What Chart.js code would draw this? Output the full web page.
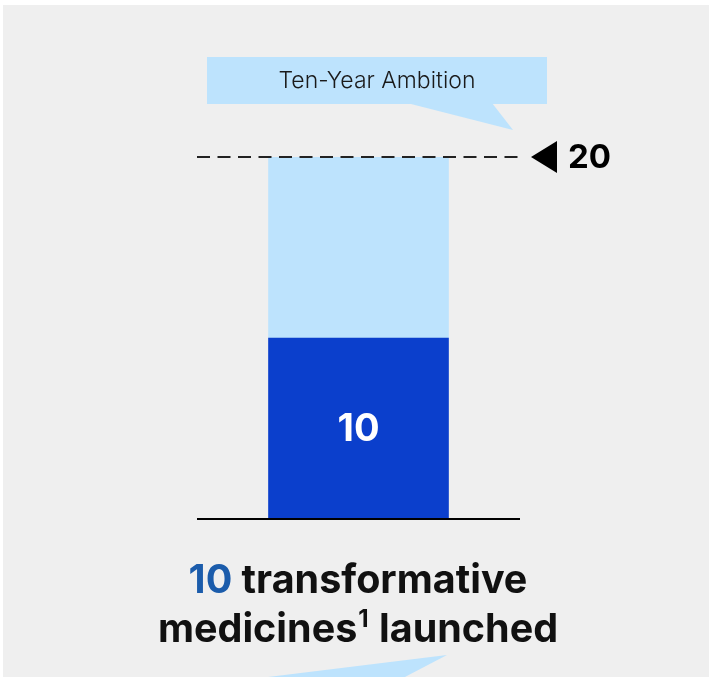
<!DOCTYPE html>
<html>
<head>
<meta charset="utf-8">
<style>
  html, body { margin: 0; padding: 0; background: #ffffff; }
  #wrap { width: 711px; height: 677px; position: relative; }
  canvas { display: block; }
</style>
<script src="https://cdn.jsdelivr.net/npm/chart.js@4"></script>
</head>
<body>
<div id="wrap"><canvas id="c" width="711" height="677"></canvas></div>
<script>
// ---- data ----
const categories = ['Transformative medicines launched'];
const launched = [10];
const remainingToAmbition = [10];
const ambitionTarget = 20;
const ambitionLabel = 'Ten-Year Ambition';
const captionNumber = '10';
const captionLine1 = ' transformative';
const captionLine2 = 'medicines';
const captionSup = '1';
const captionLine2b = ' launched';

const FONT = 'Inter, "Noto Sans", sans-serif';

const decor = {
  id: 'decor',
  beforeDraw(chart) {
    const ctx = chart.ctx;
    ctx.save();
    ctx.fillStyle = '#efefef';
    ctx.fillRect(3, 5, 706, 672);
    ctx.restore();
  },
  afterDatasetsDraw(chart) {
    const ctx = chart.ctx;
    const ca = chart.chartArea;
    const y = chart.scales.y;
    const y0 = y.getPixelForValue(0);
    const yT = y.getPixelForValue(ambitionTarget);
    ctx.save();
    // baseline
    ctx.strokeStyle = '#000';
    ctx.lineWidth = 2;
    ctx.beginPath();
    ctx.moveTo(ca.left, y0); ctx.lineTo(ca.right, y0);
    ctx.stroke();
    // dashed target line
    ctx.setLineDash([13, 7.5]);
    ctx.lineWidth = 2;
    ctx.strokeStyle = '#222';
    ctx.beginPath();
    ctx.moveTo(ca.left, yT); ctx.lineTo(ca.right - 2, yT);
    ctx.stroke();
    ctx.setLineDash([]);
    // triangle marker
    ctx.fillStyle = '#000';
    ctx.beginPath();
    ctx.moveTo(ca.right + 11, yT);
    ctx.lineTo(ca.right + 37, yT - 16);
    ctx.lineTo(ca.right + 37, yT + 16);
    ctx.closePath();
    ctx.fill();
    // target label
    ctx.font = 'bold 33px ' + FONT;
    ctx.textBaseline = 'middle';
    ctx.textAlign = 'left';
    ctx.fillText(String(ambitionTarget), ca.right + 48, yT + 1);

    // callout box
    ctx.fillStyle = '#bde3fd';
    ctx.fillRect(207, 57, 340, 47);
    ctx.beginPath();
    ctx.moveTo(407, 103); ctx.lineTo(513, 130); ctx.lineTo(492, 103);
    ctx.closePath(); ctx.fill();
    ctx.fillStyle = '#1a1a1a';
    ctx.font = '300 23px ' + FONT;
    ctx.textAlign = 'center';
    ctx.textBaseline = 'middle';
    ctx.fillText(ambitionLabel, 377, 81);

    // value label in bar
    const meta = chart.getDatasetMeta(0);
    meta.data.forEach((bar, i) => {
      const cy = (bar.y + bar.base) / 2;
      ctx.fillStyle = '#ffffff';
      ctx.font = 'bold 38px ' + FONT;
      ctx.textAlign = 'center';
      ctx.textBaseline = 'middle';
      ctx.fillText(String(launched[i]), bar.x, cy + 1);
    });

    // caption
    const cx = 358;
    ctx.textBaseline = 'alphabetic';
    ctx.textAlign = 'left';
    ctx.font = 'bold 39.5px ' + FONT;
    const wNum = ctx.measureText(captionNumber).width;
    const wL1 = ctx.measureText(captionLine1).width;
    let x = cx - (wNum + wL1) / 2;
    ctx.fillStyle = '#1b5cab';
    ctx.fillText(captionNumber, x, 593);
    ctx.fillStyle = '#111';
    ctx.fillText(captionLine1, x + wNum, 593);

    const wM = ctx.measureText(captionLine2).width;
    const wL2 = ctx.measureText(captionLine2b).width;
    ctx.font = 'bold 24px ' + FONT;
    const wS = ctx.measureText(captionSup).width + 2;
    x = cx - (wM + wS + wL2) / 2;
    ctx.font = 'bold 39.5px ' + FONT;
    ctx.fillText(captionLine2, x, 642);
    ctx.font = 'bold 24px ' + FONT;
    ctx.fillText(captionSup, x + wM + 1, 627);
    ctx.font = 'bold 39.5px ' + FONT;
    ctx.fillText(captionLine2b, x + wM + wS, 642);

    // lower callout tail
    ctx.fillStyle = '#bde3fd';
    ctx.beginPath();
    ctx.moveTo(447, 655); ctx.lineTo(403, 678); ctx.lineTo(260, 678);
    ctx.closePath(); ctx.fill();
    ctx.restore();
  }
};

new Chart(document.getElementById('c'), {
  type: 'bar',
  data: {
    labels: categories,
    datasets: [
      { label: 'Launched', data: launched, backgroundColor: '#0b3fcc', barThickness: 180, stack: 's' },
      { label: 'Ambition', data: remainingToAmbition, backgroundColor: '#bde3fd', barThickness: 180, stack: 's' }
    ]
  },
  options: {
    responsive: false,
    animation: false,
    layout: { padding: { left: 197, right: 191, top: 157, bottom: 158 } },
    plugins: { legend: { display: false }, tooltip: { enabled: false } },
    scales: {
      x: { display: false, stacked: true },
      y: { display: false, stacked: true, min: 0, max: ambitionTarget }
    }
  },
  plugins: [decor]
});
</script>
</body>
</html>
